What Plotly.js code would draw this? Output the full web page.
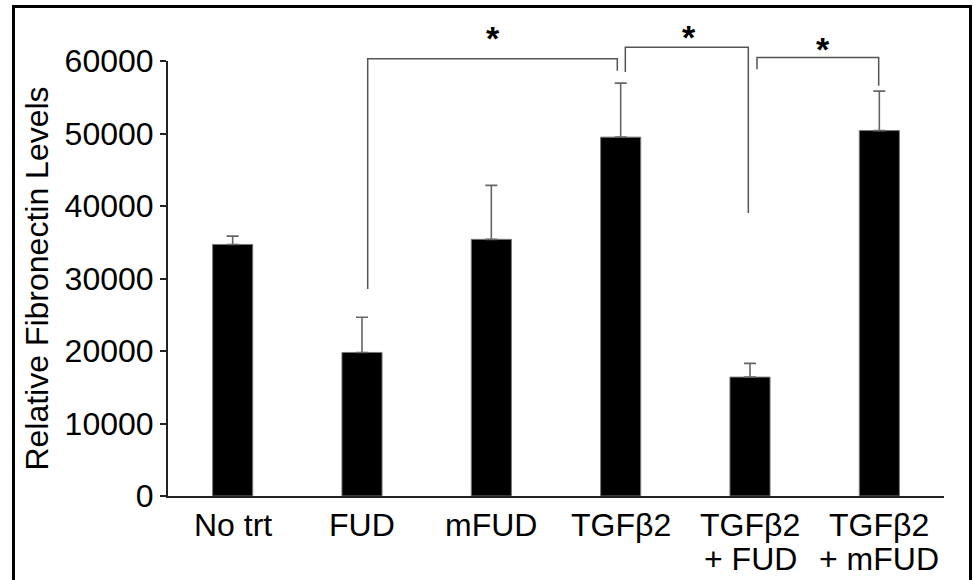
<!DOCTYPE html>
<html>
<head>
<meta charset="utf-8">
<script src="https://cdn.plot.ly/plotly-3.0.1.min.js"></script>
<style>
  html, body { margin: 0; padding: 0; background: #fff; }
  #wrap { position: relative; width: 974px; height: 580px; overflow: hidden; }
  #chart { position: absolute; left: 0; top: 0; width: 974px; height: 580px; }
  #frame { position: absolute; left: 12px; top: 5px; width: 954px; height: 600px;
           border: 3px solid #000; pointer-events: none; }
</style>
</head>
<body>
<div id="wrap">
  <div id="chart"></div>
  <div id="frame"></div>
</div>
<script>
// ---- data ----
const categories = ["No trt", "FUD", "mFUD", "TGFβ2", "TGFβ2<br>+ FUD", "TGFβ2<br>+ mFUD"];
const values = [34700, 19800, 35400, 49500, 16400, 50400];
const errorsPlus = [1150, 4850, 7450, 7450, 1900, 5450];
const yTickVals = [0, 10000, 20000, 30000, 40000, 50000, 60000];
const yTickText = ["0", "10000", "20000", "30000", "40000", "50000", "60000"];

// significance brackets (group index from / to, heights in data units)
const bracketFrom = [1, 3, 4];
const bracketTo = [3, 4, 5];
const bracketTop = [60300, 61900, 60500];
const bracketLeftEnd = [28550, 58500, 58850];
const bracketRightEnd = [58650, 39050, 56600];
const starLabel = ["*", "*", "*"];
const starY = [63600, 63700, 62100];

// ---- layout constants ----
const W = 974, H = 580;
const M = { l: 168, r: 30, t: 10, b: 84 };
const plotH = H - M.t - M.b;
const yAxisPx = 435;              // pixel height of 0..60000
const yDomTop = yAxisPx / plotH;
const yMax = 60000;
const insetL = [0.044, 0.036, 0.054];
const insetR = [-0.026, -0.013, -0.005];
const starDx = [0, 0.02, 0.04];
const FONT = '"Liberation Sans", Arial, Helvetica, sans-serif';
const FS = 32;
const idx = categories.map((_, i) => i);

const traces = [{
  type: 'bar',
  x: idx,
  y: values,
  xaxis: 'x', yaxis: 'y',
  width: 0.31,
  marker: { color: '#000', line: { color: '#777', width: 1 } },
  error_y: {
    type: 'data', symmetric: false,
    array: errorsPlus, arrayminus: errorsPlus.map(() => 0),
    color: '#666', thickness: 1.6, width: 6
  },
  hoverinfo: 'skip'
}];

bracketFrom.forEach((f, k) => {
  const t = bracketTo[k];
  traces.push({
    type: 'scatter', mode: 'lines',
    xaxis: 'x2', yaxis: 'y2',
    x: [f + insetL[k], f + insetL[k], t + insetR[k], t + insetR[k]],
    y: [bracketLeftEnd[k], bracketTop[k], bracketTop[k], bracketRightEnd[k]],
    line: { color: '#555', width: 1.5 },
    hoverinfo: 'skip', showlegend: false
  });
});

const annotations = [];
categories.forEach((c, i) => {
  c.split('<br>').forEach((line, j) => {
    annotations.push({
      xref: 'x', yref: 'paper', x: i, y: 0,
      xanchor: 'center', yanchor: 'top',
      yshift: -9 - j * 34,
      text: line, showarrow: false,
      font: { family: FONT, size: FS, color: '#000' }
    });
  });
});
bracketFrom.forEach((f, k) => {
  const t = bracketTo[k];
  annotations.push({
    xref: 'x2', yref: 'y2',
    x: ((f + insetL[k]) + (t + insetR[k])) / 2 + starDx[k], y: starY[k],
    xanchor: 'center', yanchor: 'middle', yshift: -3,
    text: '<b>' + starLabel[k] + '</b>', showarrow: false,
    font: { family: FONT, size: 34, color: '#000' }
  });
});

const layout = {
  width: W, height: H,
  margin: M,
  paper_bgcolor: '#fff',
  plot_bgcolor: 'rgba(0,0,0,0)',
  showlegend: false,
  font: { family: FONT, size: FS, color: '#000' },
  xaxis: {
    domain: [0, 1], anchor: 'y',
    range: [-0.5, 5.5],
    showline: true, linecolor: '#222', linewidth: 2,
    showgrid: false, zeroline: false,
    ticks: '', showticklabels: false
  },
  yaxis: {
    domain: [0, yDomTop], anchor: 'x',
    range: [0, yMax],
    showline: true, linecolor: '#222', linewidth: 2,
    showgrid: false, zeroline: false,
    ticks: 'outside', ticklen: 6, tickwidth: 2, tickcolor: '#222',
    tickmode: 'array', tickvals: yTickVals, ticktext: yTickText,
    tickfont: { family: FONT, size: FS, color: '#000' },
    title: { text: 'Relative Fibronectin Levels', standoff: 6,
             font: { family: FONT, size: FS, color: '#000' } }
  },
  xaxis2: {
    domain: [0, 1], anchor: 'y2', range: [-0.5, 5.5], visible: false, fixedrange: true
  },
  yaxis2: {
    domain: [0, 1], anchor: 'x2', range: [0, yMax / yDomTop], visible: false, fixedrange: true
  },
  annotations: annotations
};

Plotly.newPlot('chart', traces, layout, { staticPlot: true, displayModeBar: false });
</script>
</body>
</html>
